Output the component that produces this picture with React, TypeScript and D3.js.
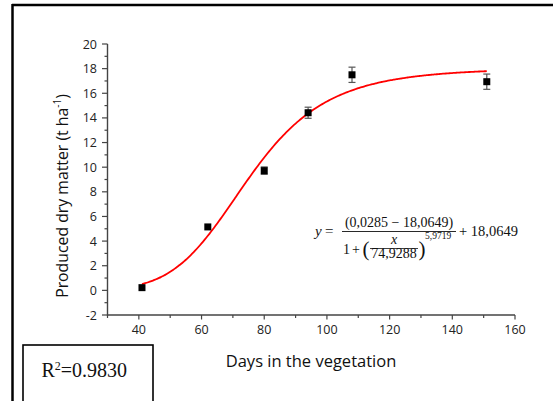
import React from "react";
import * as d3 from "d3";

const days = [41, 62, 80, 94, 108, 151];
const dryMatter = [0.22, 5.15, 9.72, 14.42, 17.5, 16.94];
const errors = [0.1, 0.1, 0.3, 0.45, 0.62, 0.62];
const yTicks = [-2, 0, 2, 4, 6, 8, 10, 12, 14, 16, 18, 20];
const xTicks = [40, 60, 80, 100, 120, 140, 160];
// Fitted logistic parameters shown in the chart's equation
const fitA1 = 0.0285;
const fitA2 = 18.0649;
const fitX0 = 74.9288;
const fitP = 5.9719;
const fitRange = [41, 151];

const W = 553;
const H = 401;

export default function App() {
  const x = d3.scaleLinear().domain([30, 160]).range([107.5, 515]);
  const y = d3.scaleLinear().domain([-2, 20]).range([315, 44]);

  const fitXs = d3.range(fitRange[0], fitRange[1] + 0.01, 0.5);
  const fitPts: [number, number][] = fitXs.map((d) => [
    d,
    (fitA1 - fitA2) / (1 + Math.pow(d / fitX0, fitP)) + fitA2,
  ]);
  const line = d3
    .line<[number, number]>()
    .x((d) => x(d[0]))
    .y((d) => y(d[1]))
    .curve(d3.curveMonotoneX);

  const yMinor = d3.range(-2, 20.01, 1).filter((v) => v % 2 !== 0);
  const xMinor = d3.range(30, 160.01, 10).filter((v) => v % 20 !== 0);
  const axisColor = "#444";
  const sans = "'Open Sans', 'Noto Sans', sans-serif";
  const serif = "'Liberation Serif', 'Times New Roman', serif";

  return (
    <svg
      width={W}
      height={H}
      style={{ position: "absolute", left: 0, top: 0, background: "#fff" }}
    >
      {/* outer frame */}
      <line x1={12} x2={W} y1={5} y2={5} stroke="#000" strokeWidth={2.5} />
      <line x1={12.5} x2={12.5} y1={4} y2={H} stroke="#000" strokeWidth={2.5} />

      {/* y axis */}
      <line x1={x(30)} x2={x(30)} y1={y(-2) + 0.5} y2={y(20)} stroke={axisColor} strokeWidth={1.4} />
      {yTicks.map((t) => (
        <g key={"yt" + t}>
          <line x1={x(30) - 5.5} x2={x(30)} y1={y(t)} y2={y(t)} stroke={axisColor} strokeWidth={1.2} />
          <text
            x={97}
            y={y(t)}
            dy="0.36em"
            textAnchor="end"
            fontFamily={sans}
            fontSize={12.5}
            fill="#222"
          >
            {t}
          </text>
        </g>
      ))}
      {yMinor.map((t) => (
        <line key={"ym" + t} x1={x(30) - 3} x2={x(30)} y1={y(t)} y2={y(t)} stroke={axisColor} strokeWidth={1.2} />
      ))}

      {/* x axis */}
      <line x1={x(30) - 0.5} x2={x(160)} y1={y(-2)} y2={y(-2)} stroke={axisColor} strokeWidth={1.4} />
      {xTicks.map((t) => (
        <g key={"xt" + t}>
          <line x1={x(t)} x2={x(t)} y1={y(-2)} y2={y(-2) + 4.5} stroke={axisColor} strokeWidth={1.2} />
          <text
            x={x(t)}
            y={334}
            textAnchor="middle"
            fontFamily={sans}
            fontSize={12.5}
            fill="#222"
          >
            {t}
          </text>
        </g>
      ))}
      {xMinor.map((t) => (
        <line key={"xm" + t} x1={x(t)} x2={x(t)} y1={y(-2)} y2={y(-2) + 3} stroke={axisColor} strokeWidth={1.2} />
      ))}

      {/* axis titles */}
      <text
        x={311}
        y={367}
        textAnchor="middle"
        fontFamily={sans}
        fontSize={16.5}
        fill="#111"
      >
        Days in the vegetation
      </text>
      <text
        transform={`translate(67.5,196) rotate(-90)`}
        textAnchor="middle"
        fontFamily={sans}
        fontSize={15.8}
        fill="#111"
      >
        Produced dry matter (t ha
        <tspan dy={-6.5} fontSize={10}>-1</tspan>
        <tspan dy={6.5}>)</tspan>
      </text>

      {/* fitted curve */}
      <path d={line(fitPts) || ""} fill="none" stroke="#ff0000" strokeWidth={1.8} />

      {/* error bars and points */}
      {days.map((d, i) => {
        const cx = x(d);
        const cy = y(dryMatter[i]);
        const e = errors[i];
        return (
          <g key={"p" + i}>
            {e > 0.2 && (
              <g stroke="#555" strokeWidth={1.2}>
                <line x1={cx} x2={cx} y1={y(dryMatter[i] + e)} y2={y(dryMatter[i] - e)} />
                <line x1={cx - 3.5} x2={cx + 3.5} y1={y(dryMatter[i] + e)} y2={y(dryMatter[i] + e)} />
                <line x1={cx - 3.5} x2={cx + 3.5} y1={y(dryMatter[i] - e)} y2={y(dryMatter[i] - e)} />
              </g>
            )}
            <rect x={cx - 3.5} y={cy - 3.5} width={7} height={7} fill="#000" />
          </g>
        );
      })}

      {/* equation */}
      <g fontFamily={serif} fill="#111">
        <text x={315} y={236} fontSize={15} fontStyle="italic">y</text>
        <text x={325} y={236} fontSize={15}>=</text>
        <text x={399} y={226.5} fontSize={14} textAnchor="middle">(0,0285 − 18,0649)</text>
        <line x1={342} x2={456} y1={231.5} y2={231.5} stroke="#111" strokeWidth={0.9} />
        <text x={343} y={253.5} fontSize={14}>1</text>
        <text x={352} y={253.5} fontSize={14}>+</text>
        <text x={362.5} y={256} fontSize={21}>(</text>
        <text x={394} y={243.5} fontSize={14} fontStyle="italic" textAnchor="middle">x</text>
        <line x1={370} x2={418} y1={248.5} y2={248.5} stroke="#111" strokeWidth={0.8} />
        <text x={394} y={258} fontSize={14} textAnchor="middle">74,9288</text>
        <text x={418.5} y={256} fontSize={21}>)</text>
        <text x={425} y={239} fontSize={9.5}>5,9719</text>
        <text x={459} y={236} fontSize={14.5}>+  18,0649</text>
      </g>

      {/* R² box */}
      <rect x={23} y={345} width={130} height={70} fill="#fff" stroke="#000" strokeWidth={1.6} />
      <text x={41.5} y={377} fontFamily={serif} fontSize={20} fill="#111">
        R<tspan dy={-7} fontSize={12}>2</tspan>
        <tspan dy={7}>=0.9830</tspan>
      </text>
    </svg>
  );
}
